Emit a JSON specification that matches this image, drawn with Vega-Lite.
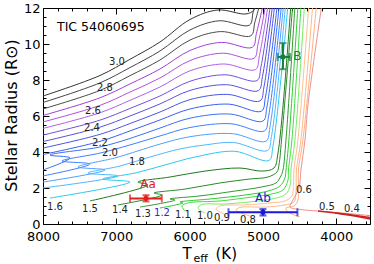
{
  "$schema": "https://vega.github.io/schema/vega-lite/v6.json",
  "width": 327,
  "height": 216,
  "autosize": {"type": "none"},
  "padding": {"left": 43, "top": 8, "right": 4, "bottom": 40},
  "config": {
    "font": "DejaVu Sans",
    "view": {"stroke": null},
    "axis": {"grid": false, "tickColor": "#000", "domainColor": "#000", "labelColor": "#000", "titleColor": "#000", "labelFont": "DejaVu Sans", "titleFont": "DejaVu Sans", "titleFontWeight": "normal", "labelFlush": false, "labelOverlap": false}
  },
  "datasets": {
    "tracks": [
      {"m":"3.0","k":0,"T":8000,"R":7.11},{"m":"3.0","k":1,"T":7223,"R":8.25},{"m":"3.0","k":2,"T":6814,"R":9.15},{"m":"3.0","k":3,"T":6405,"R":10.11},{"m":"3.0","k":4,"T":5995,"R":11.36},{"m":"3.0","k":5,"T":5614,"R":11.89},{"m":"3.0","k":6,"T":5232,"R":11.67},{"m":"3.0","k":7,"T":5123,"R":11.89},{"m":"3.0","k":8,"T":5014,"R":13.0},
      {"m":"2.9","k":0,"T":8000,"R":6.75},{"m":"2.9","k":1,"T":7223,"R":7.84},{"m":"2.9","k":2,"T":6814,"R":8.69},{"m":"2.9","k":3,"T":6405,"R":9.61},{"m":"2.9","k":4,"T":5995,"R":10.78},{"m":"2.9","k":5,"T":5597,"R":11.29},{"m":"2.9","k":6,"T":5184,"R":11.05},{"m":"2.9","k":7,"T":5130,"R":11.83},{"m":"2.9","k":8,"T":5014,"R":13.0},
      {"m":"2.8","k":0,"T":8000,"R":6.39},{"m":"2.8","k":1,"T":7223,"R":7.42},{"m":"2.8","k":2,"T":6814,"R":8.24},{"m":"2.8","k":3,"T":6405,"R":9.11},{"m":"2.8","k":4,"T":5995,"R":10.22},{"m":"2.8","k":5,"T":5581,"R":10.69},{"m":"2.8","k":6,"T":5164,"R":10.46},{"m":"2.8","k":7,"T":5109,"R":11.23},{"m":"2.8","k":8,"T":4987,"R":13.0},
      {"m":"2.7","k":0,"T":8000,"R":6.03},{"m":"2.7","k":1,"T":7223,"R":7.01},{"m":"2.7","k":2,"T":6814,"R":7.78},{"m":"2.7","k":3,"T":6405,"R":8.61},{"m":"2.7","k":4,"T":5995,"R":9.64},{"m":"2.7","k":5,"T":5565,"R":10.09},{"m":"2.7","k":6,"T":5143,"R":9.82},{"m":"2.7","k":7,"T":5089,"R":10.59},{"m":"2.7","k":8,"T":4952,"R":13.0},
      {"m":"2.6","k":0,"T":8000,"R":5.67},{"m":"2.6","k":1,"T":7223,"R":6.59},{"m":"2.6","k":2,"T":6814,"R":7.33},{"m":"2.6","k":3,"T":6405,"R":8.11},{"m":"2.6","k":4,"T":5995,"R":9.08},{"m":"2.6","k":5,"T":5548,"R":9.49},{"m":"2.6","k":6,"T":5123,"R":9.2},{"m":"2.6","k":7,"T":5068,"R":9.98},{"m":"2.6","k":8,"T":4925,"R":13.0},
      {"m":"2.5","k":0,"T":8000,"R":5.31},{"m":"2.5","k":1,"T":7223,"R":6.18},{"m":"2.5","k":2,"T":6814,"R":6.87},{"m":"2.5","k":3,"T":6405,"R":7.61},{"m":"2.5","k":4,"T":5995,"R":8.51},{"m":"2.5","k":5,"T":5532,"R":8.89},{"m":"2.5","k":6,"T":5102,"R":8.58},{"m":"2.5","k":7,"T":5048,"R":9.36},{"m":"2.5","k":8,"T":4898,"R":13.0},
      {"m":"2.4","k":0,"T":8000,"R":4.94},{"m":"2.4","k":1,"T":7223,"R":5.77},{"m":"2.4","k":2,"T":6814,"R":6.42},{"m":"2.4","k":3,"T":6405,"R":7.11},{"m":"2.4","k":4,"T":5995,"R":7.93},{"m":"2.4","k":5,"T":5516,"R":8.29},{"m":"2.4","k":6,"T":5082,"R":7.97},{"m":"2.4","k":7,"T":5027,"R":8.74},{"m":"2.4","k":8,"T":4871,"R":13.0},
      {"m":"2.3","k":0,"T":8000,"R":4.58},{"m":"2.3","k":1,"T":7223,"R":5.38},{"m":"2.3","k":2,"T":6814,"R":6.0},{"m":"2.3","k":3,"T":6405,"R":6.67},{"m":"2.3","k":4,"T":5995,"R":7.42},{"m":"2.3","k":5,"T":5499,"R":7.74},{"m":"2.3","k":6,"T":5062,"R":7.41},{"m":"2.3","k":7,"T":5007,"R":8.18},{"m":"2.3","k":8,"T":4843,"R":13.0},
      {"m":"2.2","k":0,"T":8000,"R":4.22},{"m":"2.2","k":1,"T":7223,"R":4.98},{"m":"2.2","k":2,"T":6814,"R":5.58},{"m":"2.2","k":3,"T":6405,"R":6.22},{"m":"2.2","k":4,"T":5995,"R":6.91},{"m":"2.2","k":5,"T":5483,"R":7.2},{"m":"2.2","k":6,"T":5041,"R":6.84},{"m":"2.2","k":7,"T":4986,"R":7.62},{"m":"2.2","k":8,"T":4816,"R":13.0},
      {"m":"2.1","k":0,"T":8000,"R":3.86},{"m":"2.1","k":1,"T":7223,"R":4.59},{"m":"2.1","k":2,"T":6814,"R":5.17},{"m":"2.1","k":3,"T":6405,"R":5.78},{"m":"2.1","k":4,"T":5995,"R":6.39},{"m":"2.1","k":5,"T":5466,"R":6.66},{"m":"2.1","k":6,"T":5021,"R":6.27},{"m":"2.1","k":7,"T":4966,"R":7.05},{"m":"2.1","k":8,"T":4782,"R":13.0},
      {"m":"2.0","k":0,"T":8000,"R":3.0},{"m":"2.0","k":1,"T":7632,"R":3.67},{"m":"2.0","k":2,"T":7905,"R":3.83},{"m":"2.0","k":3,"T":7223,"R":4.28},{"m":"2.0","k":4,"T":6814,"R":4.75},{"m":"2.0","k":5,"T":6405,"R":5.33},{"m":"2.0","k":6,"T":5995,"R":5.88},{"m":"2.0","k":7,"T":5450,"R":6.11},{"m":"2.0","k":8,"T":5000,"R":5.72},{"m":"2.0","k":9,"T":4946,"R":6.5},{"m":"2.0","k":10,"T":4755,"R":13.0},
      {"m":"1.9","k":0,"T":8000,"R":2.67},{"m":"1.9","k":1,"T":7359,"R":3.33},{"m":"1.9","k":2,"T":7741,"R":3.5},{"m":"1.9","k":3,"T":7223,"R":3.94},{"m":"1.9","k":4,"T":6814,"R":4.39},{"m":"1.9","k":5,"T":6405,"R":4.89},{"m":"1.9","k":6,"T":5995,"R":5.36},{"m":"1.9","k":7,"T":5437,"R":5.57},{"m":"1.9","k":8,"T":4980,"R":5.17},{"m":"1.9","k":9,"T":4925,"R":5.94},{"m":"1.9","k":10,"T":4727,"R":13.0},
      {"m":"1.8","k":0,"T":8000,"R":2.33},{"m":"1.8","k":1,"T":7155,"R":3.0},{"m":"1.8","k":2,"T":7523,"R":3.17},{"m":"1.8","k":3,"T":7018,"R":3.67},{"m":"1.8","k":4,"T":6705,"R":4.06},{"m":"1.8","k":5,"T":6405,"R":4.44},{"m":"1.8","k":6,"T":5995,"R":4.85},{"m":"1.8","k":7,"T":5417,"R":5.02},{"m":"1.8","k":8,"T":4959,"R":4.6},{"m":"1.8","k":9,"T":4905,"R":5.38},{"m":"1.8","k":10,"T":4700,"R":13.0},
      {"m":"1.7","k":0,"T":8000,"R":2.0},{"m":"1.7","k":1,"T":6977,"R":2.67},{"m":"1.7","k":2,"T":7386,"R":2.83},{"m":"1.7","k":3,"T":6950,"R":3.22},{"m":"1.7","k":4,"T":6541,"R":3.72},{"m":"1.7","k":5,"T":6132,"R":4.17},{"m":"1.7","k":6,"T":5791,"R":4.39},{"m":"1.7","k":7,"T":5401,"R":4.53},{"m":"1.7","k":8,"T":4939,"R":4.08},{"m":"1.7","k":9,"T":4884,"R":4.86},{"m":"1.7","k":10,"T":4673,"R":13.0},
      {"m":"1.6","k":0,"T":7905,"R":1.44},{"m":"1.6","k":1,"T":6814,"R":2.33},{"m":"1.6","k":2,"T":7182,"R":2.5},{"m":"1.6","k":3,"T":6745,"R":2.83},{"m":"1.6","k":4,"T":6336,"R":3.28},{"m":"1.6","k":5,"T":5927,"R":3.72},{"m":"1.6","k":6,"T":5385,"R":4.04},{"m":"1.6","k":7,"T":4918,"R":3.53},{"m":"1.6","k":8,"T":4864,"R":4.31},{"m":"1.6","k":9,"T":4640,"R":13.0},
      {"m":"1.5","k":0,"T":7359,"R":1.28},{"m":"1.5","k":1,"T":6568,"R":2.17},{"m":"1.5","k":2,"T":6705,"R":2.33},{"m":"1.5","k":3,"T":6268,"R":2.61},{"m":"1.5","k":4,"T":5791,"R":2.94},{"m":"1.5","k":5,"T":5314,"R":3.11},{"m":"1.5","k":6,"T":5014,"R":2.94},{"m":"1.5","k":7,"T":4850,"R":3.11},{"m":"1.5","k":8,"T":4795,"R":3.94},{"m":"1.5","k":9,"T":4605,"R":13.0},
      {"m":"1.4","k":0,"T":6977,"R":1.06},{"m":"1.4","k":1,"T":6377,"R":1.61},{"m":"1.4","k":2,"T":6486,"R":1.72},{"m":"1.4","k":3,"T":6064,"R":1.94},{"m":"1.4","k":4,"T":5586,"R":2.28},{"m":"1.4","k":5,"T":5177,"R":2.5},{"m":"1.4","k":6,"T":4932,"R":2.61},{"m":"1.4","k":7,"T":4809,"R":2.89},{"m":"1.4","k":8,"T":4782,"R":3.28},{"m":"1.4","k":9,"T":4741,"R":4.94},{"m":"1.4","k":10,"T":4577,"R":13.0},
      {"m":"1.3","k":0,"T":6677,"R":0.94},{"m":"1.3","k":1,"T":6200,"R":1.33},{"m":"1.3","k":2,"T":6268,"R":1.39},{"m":"1.3","k":3,"T":5859,"R":1.56},{"m":"1.3","k":4,"T":5382,"R":1.83},{"m":"1.3","k":5,"T":5014,"R":2.06},{"m":"1.3","k":6,"T":4823,"R":2.28},{"m":"1.3","k":7,"T":4755,"R":2.67},{"m":"1.3","k":8,"T":4727,"R":3.0},{"m":"1.3","k":9,"T":4686,"R":4.67},{"m":"1.3","k":10,"T":4550,"R":13.0},
      {"m":"1.2","k":0,"T":6405,"R":0.89},{"m":"1.2","k":1,"T":6091,"R":1.17},{"m":"1.2","k":2,"T":6132,"R":1.22},{"m":"1.2","k":3,"T":5723,"R":1.39},{"m":"1.2","k":4,"T":5245,"R":1.61},{"m":"1.2","k":5,"T":4932,"R":1.83},{"m":"1.2","k":6,"T":4768,"R":2.11},{"m":"1.2","k":7,"T":4700,"R":2.56},{"m":"1.2","k":8,"T":4686,"R":3.0},{"m":"1.2","k":9,"T":4646,"R":4.67},{"m":"1.2","k":10,"T":4509,"R":13.0},
      {"m":"1.1","k":0,"T":6064,"R":0.72},{"m":"1.1","k":1,"T":6105,"R":1.0},{"m":"1.1","k":2,"T":6023,"R":1.17},{"m":"1.1","k":3,"T":5586,"R":1.28},{"m":"1.1","k":4,"T":5150,"R":1.5},{"m":"1.1","k":5,"T":4877,"R":1.67},{"m":"1.1","k":6,"T":4727,"R":1.89},{"m":"1.1","k":7,"T":4659,"R":2.44},{"m":"1.1","k":8,"T":4652,"R":3.0},{"m":"1.1","k":9,"T":4605,"R":4.67},{"m":"1.1","k":10,"T":4468,"R":13.0},
      {"m":"1.0","k":0,"T":5791,"R":0.61},{"m":"1.0","k":1,"T":5886,"R":0.89},{"m":"1.0","k":2,"T":5832,"R":1.08},{"m":"1.0","k":3,"T":5518,"R":1.11},{"m":"1.0","k":4,"T":5068,"R":1.28},{"m":"1.0","k":5,"T":4823,"R":1.44},{"m":"1.0","k":6,"T":4686,"R":1.67},{"m":"1.0","k":7,"T":4625,"R":2.22},{"m":"1.0","k":8,"T":4618,"R":3.0},{"m":"1.0","k":9,"T":4564,"R":4.67},{"m":"1.0","k":10,"T":4421,"R":13.0},
      {"m":"0.9","k":0,"T":5532,"R":0.56},{"m":"0.9","k":1,"T":5641,"R":0.83},{"m":"0.9","k":2,"T":5586,"R":1.0},{"m":"0.9","k":3,"T":5245,"R":1.06},{"m":"0.9","k":4,"T":4905,"R":1.17},{"m":"0.9","k":5,"T":4700,"R":1.28},{"m":"0.9","k":6,"T":4605,"R":1.56},{"m":"0.9","k":7,"T":4584,"R":2.17},{"m":"0.9","k":8,"T":4577,"R":3.0},{"m":"0.9","k":9,"T":4523,"R":4.67},{"m":"0.9","k":10,"T":4359,"R":13.0},
      {"m":"0.8","k":0,"T":5177,"R":0.44},{"m":"0.8","k":1,"T":5368,"R":0.78},{"m":"0.8","k":2,"T":5314,"R":0.92},{"m":"0.8","k":3,"T":4973,"R":0.94},{"m":"0.8","k":4,"T":4700,"R":1.06},{"m":"0.8","k":5,"T":4577,"R":1.22},{"m":"0.8","k":6,"T":4550,"R":1.78},{"m":"0.8","k":7,"T":4543,"R":3.0},{"m":"0.8","k":8,"T":4482,"R":4.67},{"m":"0.8","k":9,"T":4305,"R":13.0},
      {"m":"0.7","k":0,"T":4495,"R":0.39},{"m":"0.7","k":1,"T":4659,"R":0.67},{"m":"0.7","k":2,"T":4686,"R":0.89},{"m":"0.7","k":3,"T":4577,"R":1.0},{"m":"0.7","k":4,"T":4523,"R":1.33},{"m":"0.7","k":5,"T":4516,"R":3.0},{"m":"0.7","k":6,"T":4455,"R":4.67},{"m":"0.7","k":7,"T":4250,"R":13.0},
      {"m":"0.6","k":0,"T":3405,"R":0.42},{"m":"0.6","k":1,"T":4086,"R":0.67},{"m":"0.6","k":2,"T":4495,"R":0.81},{"m":"0.6","k":3,"T":4632,"R":0.94},{"m":"0.6","k":4,"T":4591,"R":1.33},{"m":"0.6","k":5,"T":4509,"R":2.0},{"m":"0.6","k":6,"T":4482,"R":3.0},{"m":"0.6","k":7,"T":4427,"R":4.67},{"m":"0.6","k":8,"T":4386,"R":6.61},{"m":"0.6","k":9,"T":4168,"R":13.0},
      {"m":"0.5","k":0,"T":4250,"R":0.72},{"m":"0.5","k":1,"T":3882,"R":0.56},{"m":"0.5","k":2,"T":3405,"R":0.28},
      {"m":"0.4","k":0,"T":4018,"R":0.61},{"m":"0.4","k":1,"T":3746,"R":0.44},{"m":"0.4","k":2,"T":3405,"R":0.17}
    ],
    "labels": [
      {"t":"3.0","T":6991,"R":9.0},{"t":"2.8","T":7155,"R":7.56},{"t":"2.6","T":7318,"R":6.28},{"t":"2.4","T":7332,"R":5.33},{"t":"2.2","T":7223,"R":4.5},{"t":"2.0","T":7086,"R":3.94},{"t":"1.8","T":6718,"R":3.44},
      {"t":"1.6","T":7836,"R":0.94},{"t":"1.5","T":7359,"R":0.83},{"t":"1.4","T":6950,"R":0.78},{"t":"1.3","T":6636,"R":0.56},{"t":"1.2","T":6377,"R":0.61},{"t":"1.1","T":6091,"R":0.5},{"t":"1.0","T":5791,"R":0.44},{"t":"0.9","T":5559,"R":0.33},{"t":"0.8","T":5205,"R":0.22},{"t":"0.6","T":4441,"R":1.89},{"t":"0.5","T":4127,"R":0.94},{"t":"0.4","T":3787,"R":0.83}
    ],
    "stars": [
      {"n":"Aa","T":6595,"Tlo":6814,"Thi":6380,"R":1.42,"Rlo":1.25,"Rhi":1.6},
      {"n":"Ab","T":5000,"Tlo":5470,"Thi":4530,"R":0.65,"Rlo":0.47,"Rhi":0.83},
      {"n":"B","T":4727,"Tlo":4800,"Thi":4632,"R":9.28,"Rlo":8.6,"Rhi":10.05}
    ],
    "starlabels": [
      {"n":"Aa","T":6568,"R":2.22},
      {"n":"Ab","T":5000,"R":1.44},
      {"n":"B","T":4530,"R":9.36}
    ],
    "tic": [{"t":"TIC 54060695","T":7809,"R":10.94}]
  },
  "resolve": {"axis": {"x": "independent", "y": "independent"}, "scale": {"color": "independent"}},
  "layer": [
    {
      "data": {"name": "tracks"},
      "transform": [{"filter": "datum.m != '0.5' && datum.m != '0.4'"}],
      "mark": {"type": "line", "strokeWidth": 1, "interpolate": "catmull-rom", "clip": true},
      "encoding": {
        "x": {"field": "T", "type": "quantitative", "scale": {"domain": [3540, 8000], "reverse": true, "nice": false, "zero": false},
          "axis": {"orient": "bottom", "values": [8000, 7000, 6000, 5000, 4000], "format": "d", "tickSize": -6, "labelFontSize": 13, "labelPadding": 12, "labelFlush": false, "title": "T", "titleFontSize": 15, "titleAlign": "left", "titleBaseline": "alphabetic", "titleAnchor": "start", "titleX": 139, "titleY": 34}},
        "y": {"field": "R", "type": "quantitative", "scale": {"domain": [0, 12], "nice": false, "zero": false},
          "axis": {"orient": "left", "values": [0, 2, 4, 6, 8, 10, 12], "tickSize": -6, "labelFontSize": 13, "labelPadding": 9, "labelFlush": false, "title": "Stellar Radius (R⊙)", "titleFontSize": 16, "titleAngle": -90, "titleAlign": "center", "titleBaseline": "alphabetic", "titleX": -27, "titleY": 107}},
        "color": {"field": "m", "type": "nominal", "legend": null,
          "scale": {"domain": ["3.0","2.9","2.8","2.7","2.6","2.5","2.4","2.3","2.2","2.1","2.0","1.9","1.8","1.7","1.6","1.5","1.4","1.3","1.2","1.1","1.0","0.9","0.8","0.7","0.6","0.5","0.4"],
            "range": ["#333333","#444444","#4a4a4a","#a040d8","#b050e0","#b060e8","#7050e0","#5a50e0","#4a55e8","#3a60f0","#3a70f5","#4080ff","#50a0ff","#50b8ff","#30c8f0","#1f7a1f","#2a8a2a","#339933","#2ecc2e","#44dd44","#77ee66","#ffc090","#ffb888","#ffb080","#ee9090","#cc2020","#cc2020"]}},
        "order": {"field": "k", "type": "quantitative"}
      }
    },
    {
      "data": {"name": "tracks"},
      "transform": [{"filter": "datum.m == '0.5' || datum.m == '0.4'"}],
      "mark": {"type": "line", "strokeWidth": 1.6, "clip": true},
      "encoding": {
        "x": {"field": "T", "type": "quantitative",
          "axis": {"orient": "bottom", "values": [3600,3800,4200,4400,4600,4800,5200,5400,5600,5800,6200,6400,6600,6800,7200,7400,7600,7800], "tickSize": -3, "labels": false, "domain": false, "title": "eff", "titleFontSize": 11, "titleAlign": "left", "titleBaseline": "alphabetic", "titleAnchor": "start", "titleX": 150, "titleY": 37}},
        "y": {"field": "R", "type": "quantitative",
          "axis": {"orient": "left", "values": [0.5,1,1.5,2.5,3,3.5,4.5,5,5.5,6.5,7,7.5,8.5,9,9.5,10.5,11,11.5], "tickSize": -3, "labels": false, "domain": false, "title": null}},
        "color": {"field": "m", "type": "nominal", "legend": null,
          "scale": {"domain": ["0.5","0.4"], "range": ["#cc2020","#cc2020"]}},
        "order": {"field": "k", "type": "quantitative"}
      }
    },
    {
      "data": {"name": "labels"},
      "mark": {"type": "text", "fontSize": 10, "align": "center", "baseline": "middle"},
      "encoding": {
        "x": {"field": "T", "type": "quantitative",
          "axis": {"orient": "top", "values": [8000, 7000, 6000, 5000, 4000], "tickSize": -6, "labels": false, "title": null}},
        "y": {"field": "R", "type": "quantitative",
          "axis": {"orient": "right", "values": [0, 2, 4, 6, 8, 10, 12], "tickSize": -6, "labels": false, "title": null}},
        "text": {"field": "t"},
        "color": {"condition": {"test": "datum.t == '1.2'", "value": "#2a2ad0"}, "value": "#222222"}
      }
    },
    {
      "data": {"name": "stars"},
      "mark": {"type": "rule", "strokeWidth": 2},
      "encoding": {
        "x": {"field": "Tlo", "type": "quantitative",
          "axis": {"orient": "top", "values": [3600,3800,4200,4400,4600,4800,5200,5400,5600,5800,6200,6400,6600,6800,7200,7400,7600,7800], "tickSize": -3, "labels": false, "domain": false, "title": null}},
        "x2": {"field": "Thi"},
        "y": {"field": "R", "type": "quantitative",
          "axis": {"orient": "right", "values": [0.5,1,1.5,2.5,3,3.5,4.5,5,5.5,6.5,7,7.5,8.5,9,9.5,10.5,11,11.5], "tickSize": -3, "labels": false, "domain": false, "title": null}},
        "color": {"field": "n", "type": "nominal", "legend": null, "scale": {"domain": ["Aa","Ab","B"], "range": ["#e0201c","#1a1ad6","#17803a"]}}
      }
    },
    {
      "data": {"name": "stars"},
      "mark": {"type": "rule", "strokeWidth": 2},
      "encoding": {
        "x": {"field": "T", "type": "quantitative", "axis": null},
        "y": {"field": "Rlo", "type": "quantitative", "axis": null},
        "y2": {"field": "Rhi"},
        "color": {"field": "n", "type": "nominal", "legend": null, "scale": {"domain": ["Aa","Ab","B"], "range": ["#e0201c","#1a1ad6","#17803a"]}}
      }
    },
    {
      "data": {"name": "stars"},
      "mark": {"type": "tick", "orient": "vertical", "size": 8, "thickness": 2},
      "encoding": {
        "x": {"field": "Tlo", "type": "quantitative", "axis": null},
        "y": {"field": "R", "type": "quantitative", "axis": null},
        "color": {"field": "n", "type": "nominal", "legend": null, "scale": {"domain": ["Aa","Ab","B"], "range": ["#e0201c","#1a1ad6","#17803a"]}}
      }
    },
    {
      "data": {"name": "stars"},
      "mark": {"type": "tick", "orient": "vertical", "size": 8, "thickness": 2},
      "encoding": {
        "x": {"field": "Thi", "type": "quantitative", "axis": null},
        "y": {"field": "R", "type": "quantitative", "axis": null},
        "color": {"field": "n", "type": "nominal", "legend": null, "scale": {"domain": ["Aa","Ab","B"], "range": ["#e0201c","#1a1ad6","#17803a"]}}
      }
    },
    {
      "data": {"name": "stars"},
      "mark": {"type": "tick", "orient": "horizontal", "size": 7, "thickness": 2},
      "encoding": {
        "x": {"field": "T", "type": "quantitative", "axis": null},
        "y": {"field": "Rlo", "type": "quantitative", "axis": null},
        "color": {"field": "n", "type": "nominal", "legend": null, "scale": {"domain": ["Aa","Ab","B"], "range": ["#e0201c","#1a1ad6","#17803a"]}}
      }
    },
    {
      "data": {"name": "stars"},
      "mark": {"type": "tick", "orient": "horizontal", "size": 7, "thickness": 2},
      "encoding": {
        "x": {"field": "T", "type": "quantitative", "axis": null},
        "y": {"field": "Rhi", "type": "quantitative", "axis": null},
        "color": {"field": "n", "type": "nominal", "legend": null, "scale": {"domain": ["Aa","Ab","B"], "range": ["#e0201c","#1a1ad6","#17803a"]}}
      }
    },
    {
      "data": {"name": "stars"},
      "mark": {"type": "square", "size": 20, "filled": true, "opacity": 1},
      "encoding": {
        "x": {"field": "T", "type": "quantitative", "axis": null},
        "y": {"field": "R", "type": "quantitative", "axis": null},
        "color": {"field": "n", "type": "nominal", "legend": null, "scale": {"domain": ["Aa","Ab","B"], "range": ["#e0201c","#1a1ad6","#17803a"]}}
      }
    },
    {
      "data": {"name": "starlabels"},
      "mark": {"type": "text", "fontSize": 12, "align": "center", "baseline": "middle"},
      "encoding": {
        "x": {"field": "T", "type": "quantitative",
          "axis": {"orient": "bottom", "ticks": false, "labels": false, "domain": false, "title": "(K)", "titleFontSize": 15, "titleAlign": "left", "titleBaseline": "alphabetic", "titleAnchor": "start", "titleX": 172, "titleY": 34}},
        "y": {"field": "R", "type": "quantitative", "axis": null},
        "text": {"field": "n"},
        "color": {"field": "n", "type": "nominal", "legend": null, "scale": {"domain": ["Aa","Ab","B"], "range": ["#e0201c","#1a1ad6","#17803a"]}}
      }
    },
    {
      "data": {"name": "tic"},
      "mark": {"type": "text", "fontSize": 12.5, "align": "left", "baseline": "middle", "color": "#000"},
      "encoding": {
        "x": {"field": "T", "type": "quantitative", "axis": null},
        "y": {"field": "R", "type": "quantitative", "axis": null},
        "text": {"field": "t"}
      }
    }
  ]
}
